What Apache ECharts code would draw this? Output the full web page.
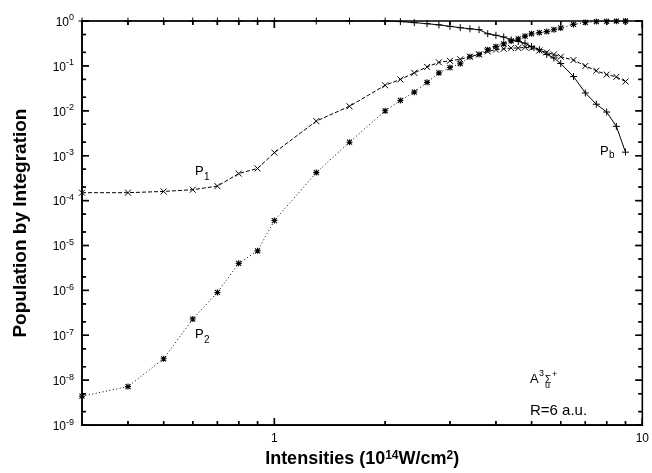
<!DOCTYPE html>
<html>
<head>
<meta charset="utf-8">
<script src="https://cdn.jsdelivr.net/npm/echarts@6/dist/echarts.min.js"></script>
<style>html,body{margin:0;padding:0;background:#fff;}#c{width:652px;height:473px;}</style>
</head>
<body>
<div id="c"></div>
<script>
// ---- data ----
const intensities = [0.3,0.4,0.5,0.6,0.7,0.8,0.9,1.0,1.3,1.6,2.0,2.2,2.4,2.6,2.8,3.0,3.2,3.4,3.6,3.8,4.0,4.2,4.4,4.6,4.8,5.0,5.25,5.5,5.75,6.0,6.5,7.0,7.5,8.0,8.5,9.0];
const p1 = [1.5e-4,1.5e-4,1.6e-4,1.75e-4,2.1e-4,4.0e-4,5.2e-4,1.17e-3,5.9e-3,1.26e-2,3.7e-2,5.0e-2,7.0e-2,9.5e-2,0.12,0.13,0.14,0.16,0.18,0.21,0.23,0.24,0.25,0.25,0.26,0.25,0.22,0.20,0.18,0.16,0.135,0.10,0.078,0.064,0.057,0.045];
const p2 = [4.4e-9,7.2e-9,3.0e-8,2.3e-7,9.0e-7,4.0e-6,7.6e-6,3.6e-5,4.2e-4,2.0e-3,1.0e-2,1.7e-2,2.6e-2,4.3e-2,7.0e-2,0.092,0.112,0.16,0.18,0.23,0.27,0.31,0.36,0.40,0.46,0.52,0.55,0.58,0.64,0.70,0.84,0.93,0.97,0.98,0.99,1.0];
const pb = [1,1,1,1,1,1,1,1,1,1,1,0.97,0.92,0.87,0.82,0.76,0.71,0.67,0.64,0.52,0.48,0.44,0.38,0.35,0.32,0.27,0.23,0.18,0.15,0.113,0.058,0.025,0.014,0.0094,0.0045,0.0012];
const xMajorTicks = [1, 10];
const xMinorTicks = [0.4,0.5,0.6,0.7,0.8,0.9,2,3,4,5,6,7,8,9];
const yMajorTicks = [1e-9,1e-8,1e-7,1e-6,1e-5,1e-4,1e-3,1e-2,1e-1,1];
const yMinorTicks = [2e-9,5e-9,2e-8,5e-8,2e-7,5e-7,2e-6,5e-6,2e-5,5e-5,2e-4,5e-4,2e-3,5e-3,2e-2,5e-2,0.2,0.5];
const X_MIN = 0.3, X_MAX = 10, Y_MIN = 1e-9, Y_MAX = 1;

const FONT = "'Liberation Sans', Arial, Helvetica, sans-serif";
const chart = echarts.init(document.getElementById('c'), null, {renderer: 'canvas'});

const sym = {
  x: 'path://M0,0L10,10M10,0L0,10',
  plus: 'path://M5,0L5,10M0,5L10,5',
  star: 'path://M0,0L10,10M10,0L0,10M5,-1L5,11M-1,5L11,5'
};
function pairs(vals) { return intensities.map((x, i) => [x, vals[i]]); }
function ser(name, vals, symbol, size, bw, dash) {
  return {
    name: name, type: 'line', data: pairs(vals),
    symbol: symbol, symbolSize: size, showSymbol: true, showAllSymbol: true, clip: false,
    itemStyle: {color: 'none', borderColor: '#000', borderWidth: bw},
    lineStyle: {color: '#000', width: 1, type: dash},
    emphasis: {disabled: true}, silent: true, z: 3
  };
}

// Tick marks on all four sides, placed through the chart's own axes (custom series)
function tickSeries(vals, isX, len) {
  return {
    type: 'custom', coordinateSystem: 'cartesian2d', silent: true, clip: false, z: 6,
    data: vals.map(v => isX ? [v, 0.001] : [1, v]),
    renderItem: function (params, api) {
      if (isX) {
        const v = api.value(0);
        const b = api.coord([v, Y_MIN]), t = api.coord([v, Y_MAX]);
        return {type: 'group', children: [
          {type: 'line', shape: {x1: b[0], y1: b[1], x2: b[0], y2: b[1] - len}, style: {stroke: '#000', lineWidth: 1.4}},
          {type: 'line', shape: {x1: t[0], y1: t[1], x2: t[0], y2: t[1] + len}, style: {stroke: '#000', lineWidth: 1.4}}
        ]};
      }
      const v = api.value(1);
      const l = api.coord([X_MIN, v]), r = api.coord([X_MAX, v]);
      return {type: 'group', children: [
        {type: 'line', shape: {x1: l[0], y1: l[1], x2: l[0] + len, y2: l[1]}, style: {stroke: '#000', lineWidth: 1.4}},
        {type: 'line', shape: {x1: r[0], y1: r[1], x2: r[0] - len, y2: r[1]}, style: {stroke: '#000', lineWidth: 1.4}}
      ]};
    }
  };
}

function txt(x, y, t, size) {
  return {type: 'text', x: x, y: y, style: {text: t, fill: '#000', font: size + 'px ' + FONT, textVerticalAlign: 'middle'}, z: 10, silent: true};
}
const labels = [
  txt(195, 171, 'P', 13), txt(204, 177, '1', 10),
  txt(195, 334, 'P', 13), txt(204, 340, '2', 10),
  txt(600, 151, 'P', 13), txt(609, 155, 'b', 10),
  txt(530, 379, 'A', 13), txt(539, 374, '3', 9), txt(545, 380, 'Σ', 10), txt(545, 386, 'u', 9), txt(552, 375, '+', 9),
  txt(530, 411, 'R=6 a.u.', 15)
];

chart.setOption({
  animation: false,
  backgroundColor: '#fff',
  grid: {left: 82, right: 7, top: 21, bottom: 44, containLabel: false,
    show: true, borderColor: '#000', borderWidth: 1.6, backgroundColor: 'transparent'},
  xAxis: {
    type: 'log', logBase: 10, min: X_MIN, max: X_MAX,
    axisLine: {show: true, lineStyle: {color: '#000', width: 1.6}},
    axisTick: {show: false},
    axisLabel: {show: true, customValues: xMajorTicks, margin: 8, color: '#000', fontSize: 12, fontFamily: FONT,
      formatter: v => String(Math.round(v))},
    splitLine: {show: false}, minorTick: {show: false},
    name: 'Intensities (10{s|14}W/cm{s|2})', nameLocation: 'middle', nameGap: 21,
    nameTextStyle: {color: '#000', fontSize: 18, fontWeight: 'bold', fontFamily: FONT,
      rich: {s: {fontSize: 12, fontWeight: 'bold', fontFamily: FONT, verticalAlign: 'top', color: '#000'}}}
  },
  yAxis: {
    type: 'log', logBase: 10, min: Y_MIN, max: Y_MAX,
    axisLine: {show: true, lineStyle: {color: '#000', width: 1.6}},
    axisTick: {show: false},
    axisLabel: {show: true, customValues: yMajorTicks, margin: 8, color: '#000', fontFamily: FONT,
      formatter: v => '{b|10}{s|' + Math.round(Math.log10(v)) + '}',
      rich: {
        b: {fontSize: 12, fontFamily: FONT, color: '#000', lineHeight: 15, verticalAlign: 'bottom'},
        s: {fontSize: 9, fontFamily: FONT, color: '#000', lineHeight: 10, verticalAlign: 'top'}
      }},
    splitLine: {show: false}, minorTick: {show: false},
    name: 'Population by Integration', nameLocation: 'middle', nameGap: 52, nameRotate: 90,
    nameTextStyle: {color: '#000', fontSize: 19, fontWeight: 'bold', fontFamily: FONT}
  },
  series: [
    ser('P1', p1, sym.x, 6, 1, [4, 2]),
    ser('P2', p2, sym.star, 6, 1.1, [1, 2.5]),
    ser('Pb', pb, sym.plus, 7, 1, 'solid'),
    tickSeries(xMajorTicks, true, 7),
    tickSeries(xMinorTicks, true, 4),
    tickSeries(yMajorTicks, false, 7),
    tickSeries(yMinorTicks, false, 4)
  ],
  graphic: labels
});

// Second layer of the same ticks as graphic lines, placed through the axes' own conversion
(function () {
  const px = v => { const r = chart.convertToPixel({xAxisIndex: 0}, v); return Array.isArray(r) ? r[0] : r; };
  const py = v => { const r = chart.convertToPixel({yAxisIndex: 0}, v); return Array.isArray(r) ? r[1] : r; };
  const L = px(X_MIN), R = px(X_MAX), T = py(Y_MAX), B = py(Y_MIN);
  if (![L, R, T, B].every(isFinite)) return;
  const g = labels.slice();
  function seg(x1, y1, x2, y2) {
    g.push({type: 'line', shape: {x1: x1, y1: y1, x2: x2, y2: y2}, style: {stroke: '#000', lineWidth: 1.4}, z: 50, zlevel: 0});
  }
  xMajorTicks.forEach(v => { const x = px(v); seg(x, B, x, B - 7); seg(x, T, x, T + 7); });
  xMinorTicks.forEach(v => { const x = px(v); seg(x, B, x, B - 4); seg(x, T, x, T + 4); });
  yMajorTicks.forEach(v => { const y = py(v); seg(L, y, L + 7, y); seg(R, y, R - 7, y); });
  yMinorTicks.forEach(v => { const y = py(v); seg(L, y, L + 4, y); seg(R, y, R - 4, y); });
  chart.setOption({graphic: g});
})();
</script>
</body>
</html>
